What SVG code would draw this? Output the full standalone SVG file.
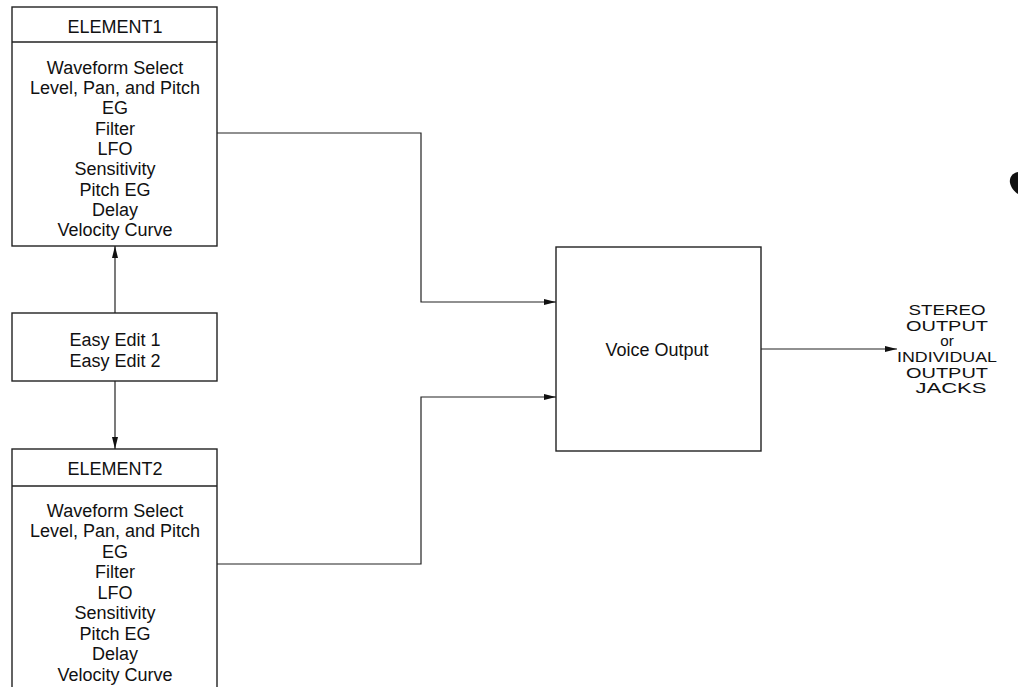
<svg xmlns="http://www.w3.org/2000/svg" width="1018" height="687" viewBox="0 0 1018 687">
<style>
.box{fill:none;stroke:#222;stroke-width:1.4}
.ln{fill:none;stroke:#222;stroke-width:1.2}
text{font-family:"Liberation Sans",Arial,sans-serif;font-size:18px;fill:#111;text-anchor:middle}
.out{font-size:15.3px}
</style>
<defs>
<marker id="ah" viewBox="0 0 12 6" refX="12" refY="3" markerWidth="12" markerHeight="6" markerUnits="userSpaceOnUse" orient="auto">
<path d="M0,0 L12,3 L0,6 Z" fill="#111"/>
</marker>
</defs>
<rect width="1018" height="687" fill="#fff"/>
<g id="element1">
<rect class="box" x="12" y="7" width="205" height="239"/>
<line class="box" x1="12" y1="42" x2="217" y2="42"/>
<text x="115" y="33">ELEMENT1</text>
<text x="115" y="74">Waveform Select</text>
<text x="115" y="94">Level, Pan, and Pitch</text>
<text x="115" y="114">EG</text>
<text x="115" y="135">Filter</text>
<text x="115" y="155">LFO</text>
<text x="115" y="175">Sensitivity</text>
<text x="115" y="196">Pitch EG</text>
<text x="115" y="216">Delay</text>
<text x="115" y="236">Velocity Curve</text>
</g>
<g id="easyedit">
<rect class="box" x="12" y="313" width="205" height="68"/>
<text x="115" y="346">Easy Edit 1</text>
<text x="115" y="367">Easy Edit 2</text>
</g>
<g id="element2">
<rect class="box" x="12" y="449" width="205" height="250"/>
<line class="box" x1="12" y1="486" x2="217" y2="486"/>
<text x="115" y="475">ELEMENT2</text>
<text x="115" y="517">Waveform Select</text>
<text x="115" y="537">Level, Pan, and Pitch</text>
<text x="115" y="558">EG</text>
<text x="115" y="578">Filter</text>
<text x="115" y="599">LFO</text>
<text x="115" y="619">Sensitivity</text>
<text x="115" y="640">Pitch EG</text>
<text x="115" y="660">Delay</text>
<text x="115" y="681">Velocity Curve</text>
</g>
<g id="voiceoutput">
<rect class="box" x="556" y="247" width="205" height="204"/>
<text x="657" y="356">Voice Output</text>
</g>
<g id="outputlabel">
<text class="out" x="947" y="315" textLength="77" lengthAdjust="spacingAndGlyphs">STEREO</text>
<text class="out" x="947" y="331" textLength="82" lengthAdjust="spacingAndGlyphs">OUTPUT</text>
<text class="out" x="947" y="346">or</text>
<text class="out" x="947" y="362" textLength="100" lengthAdjust="spacingAndGlyphs">INDIVIDUAL</text>
<text class="out" x="947" y="378" textLength="82" lengthAdjust="spacingAndGlyphs">OUTPUT</text>
<text class="out" x="951" y="393" textLength="71" lengthAdjust="spacingAndGlyphs">JACKS</text>
</g>
<g id="connectors">
<path class="ln" d="M115,313 V246" marker-end="url(#ah)"/>
<path class="ln" d="M115,381 V449" marker-end="url(#ah)"/>
<path class="ln" d="M217,133 H421 V302 H556" marker-end="url(#ah)"/>
<path class="ln" d="M217,564 H421 V397 H556" marker-end="url(#ah)"/>
<path class="ln" d="M761,349 H897" marker-end="url(#ah)"/>
</g>
<path d="M1018,172 C1012,173 1009,178 1010,183 C1011,188 1015,192 1018,194 Z" fill="#111"/>
</svg>
